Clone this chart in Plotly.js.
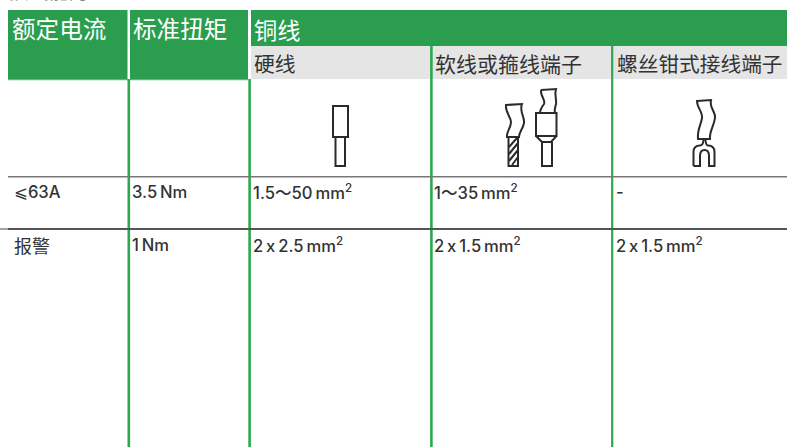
<!DOCTYPE html>
<html><head><meta charset="utf-8">
<script src="https://cdn.plot.ly/plotly-3.0.1.min.js"></script>
<style>html,body{margin:0;padding:0;background:#fff;overflow:hidden}
#c text{font-feature-settings:"calt" 0;font-variant-ligatures:none}</style>
</head><body><div id="c" style="width:787px;height:447px"></div>
<script>
const pageHeading = ['接线能力'];
const mainHeaders = ['额定电流', '标准扭矩', '铜线'];
const subHeaders = ['硬线', '软线或箍线端子', '螺丝钳式接线端子'];
const ratedCurrent = ['⩽63A', '报警'];
const torque = ['3.5\u2009Nm', '1\u2009Nm'];
const solidWire = ['1.5～50\u2009mm<sup>2</sup>', '2\u2009x\u20092.5\u2009mm<sup>2</sup>'];
const flexibleWire = ['1～35\u2009mm<sup>2</sup>', '2\u2009x\u20091.5\u2009mm<sup>2</sup>'];
const forkWire = ['-', '2\u2009x\u20091.5\u2009mm<sup>2</sup>'];

const GREEN = '#2a9e4e', LINE = '#2ca84f', GREY = '#e5e5e5';
const CJK = '"Noto Sans CJK SC","Noto Sans",sans-serif';
const LAT = 'Inter,"DejaVu Sans","Noto Sans CJK SC",sans-serif';
const colText = [11, 131, 252, 433, 615];
const rowY = [192, 245];

const rect = (x0, y0, x1, y1, c) => ({type:'rect', x0, y0, x1, y1, fillcolor:c, line:{width:0}, layer:'below'});
const ln = (x0, y0, x1, y1, c, w) => ({type:'line', x0, y0, x1, y1, line:{color:c, width:w}, layer:'below'});
const ink = p => ({type:'path', path:p, line:{color:'#2a2a2a', width:2}, fillcolor:'rgba(0,0,0,0)'});

const shapes = [
  rect(8,10,127.5,79,GREEN), rect(130,10,248,79,GREEN), rect(251,10,787,46,GREEN),
  rect(251,46,787,79,GREY),
  ln(8,79.6,248,79.6,'#5dba72',1.2),
  ln(128.8,79,128.8,447,LINE,2.6), ln(249.6,79,249.6,447,LINE,2.6),
  ln(431.4,46,431.4,447,LINE,2.6), ln(612.2,46,612.2,447,LINE,2.2),
  ln(8,176.8,787,176.8,'#777',1.5), ln(8,229,787,229,'#555',1.8), ln(0,229,8,229,'#999',1.8),
  // solid wire
  ink('M333,106 H348 V137 H333 Z'), ink('M335.5,137 H345 V166 H335.5 Z'),
  // flexible wire
  ink('M506,105 L522,104 C519,112 525,117 524,123 C523,129 519,132 519,137 L507,137 C506,132 511,128 511,122 C511,117 505,112 506,105 Z'),
  ink('M508.5,137 H518 V166 H508.5 Z'),
  ink('M509,147 L517,138 M509,154 L518,143 M509,161 L518,150 M512,165 L518,157'),
  // ferrule
  ink('M541,90 L556,89 C554,95 557,100 556,104 C555,108 554,110 555,113 M541,90 C540,96 546,100 544,104 C541,108 540,110 540,113'),
  ink('M536,113 H556.5 V136 H536 Z'),
  ink('M536,136 L542,142 H551 L556.5,136'),
  ink('M542,142 V166 H552 V142'), ink('M542,142 H552'),
  // fork terminal
  ink('M697,101 L711,100 C709,108 716,112 715,118 C714,126 709,132 710,139 L698,139 C697,130 701,125 702,118 C703,112 697,108 697,101 Z'),
  ink('M693.5,166 V152 Q693.5,145.5 700,145.5 Q703,145.5 703.5,140 M705.5,140 Q706,145.5 708,145.5 Q714.5,145.5 714.5,152 V166 H709 V156 Q709,150 704.5,150 Q700,150 700,156 V166 H693.5')
];

const ann = (text, x, y, size, color, family, weight) => ({text, x, y, xref:'x', yref:'y', xanchor:'left', yanchor:'middle', showarrow:false, align:'left', borderpad:0, font:{size, color, family, weight:weight||400}});
const annotations = [
  {text:pageHeading[0], x:8/787, y:1+9/447, xref:'paper', yref:'paper', xanchor:'left', yanchor:'middle', showarrow:false, borderpad:0, font:{size:20, color:'#222', family:CJK}},
  ann(mainHeaders[0], 11, 28, 23.6, '#fff', CJK),
  ann(mainHeaders[1], 132, 28, 23.6, '#fff', CJK),
  ann(mainHeaders[2], 253, 29, 23.2, '#fff', CJK),
  ann(subHeaders[0], 253, 63, 20.8, '#333', CJK),
  ann(subHeaders[1], 434, 63, 21, '#333', CJK),
  ann(subHeaders[2], 616, 63, 20.7, '#333', CJK)
];
[ratedCurrent, torque, solidWire, flexibleWire, forkWire].forEach((col, i) => {
  col.forEach((t, r) => {
    const cjk = t === '报警';
    annotations.push(ann(t, colText[i] + (i===0?2:0), rowY[r], cjk ? 18 : 16.6, '#333', cjk ? CJK : LAT, cjk ? 400 : 500));
  });
});

const axis = {visible:false, fixedrange:true, zeroline:false, showgrid:false};
Plotly.newPlot('c', [], {
  width:787, height:447, margin:{l:0,r:0,t:0,b:0},
  paper_bgcolor:'#fff', plot_bgcolor:'#fff', showlegend:false,
  xaxis:Object.assign({range:[0,787]}, axis),
  yaxis:Object.assign({range:[447,0]}, axis),
  shapes, annotations
}, {displayModeBar:false, staticPlot:true});
</script></body></html>
